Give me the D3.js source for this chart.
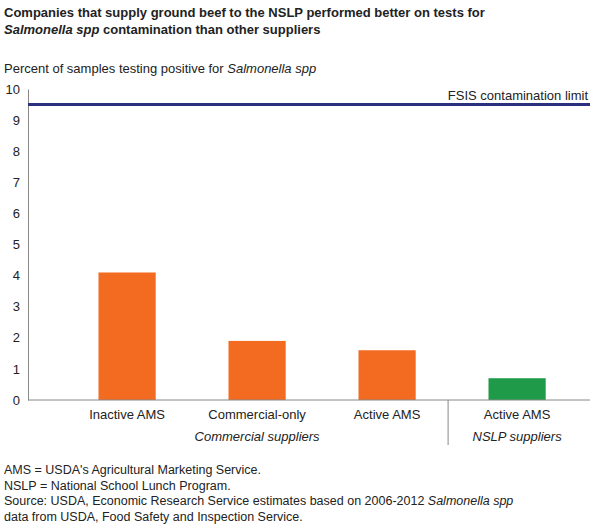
<!DOCTYPE html>
<html><head><meta charset="utf-8">
<script src="https://cdn.jsdelivr.net/npm/d3@7"></script>
<style>body{margin:0;background:#fff;font-family:Arial,"Liberation Sans",sans-serif}</style>
</head><body><svg id="c" width="590" height="531"></svg>
<script>
const categories = ["Inactive AMS","Commercial-only","Active AMS","Active AMS NSLP"];
const labels = ["Inactive AMS","Commercial-only","Active AMS","Active AMS"];
const values = [4.1, 1.9, 1.6, 0.7];
const colors = ["#f26b21","#f26b21","#f26b21","#1f9a48"];
const yTicks = [0,1,2,3,4,5,6,7,8,9,10];
const limit = 9.5;

const svg = d3.select("#c");
const x0 = 28, x1 = 590, yb = 400, yt = 89;
const y = d3.scaleLinear().domain([0,10]).range([yb,yt]);
const x = d3.scaleBand().domain(categories).range([33.5,610.7]).paddingInner(0.56).paddingOuter(0.5);

svg.append("text").attr("x",4).attr("y",17).attr("font-size",13).attr("font-weight","bold").attr("fill","#222")
  .text("Companies that supply ground beef to the NSLP performed better on tests for");
const t2 = svg.append("text").attr("x",4).attr("y",34).attr("font-size",13).attr("font-weight","bold").attr("fill","#222");
t2.append("tspan").attr("font-style","italic").text("Salmonella spp");
t2.append("tspan").text(" contamination than other suppliers");

const yl = svg.append("text").attr("x",4).attr("y",73).attr("font-size",13).attr("fill","#222");
yl.append("tspan").text("Percent of samples testing positive for ");
yl.append("tspan").attr("font-style","italic").text("Salmonella spp");

const ya = svg.append("g").attr("transform",`translate(${x0},0)`)
  .call(d3.axisLeft(y).tickValues(yTicks).tickSize(0).tickPadding(8));
ya.select(".domain").attr("stroke","#888");
ya.selectAll("text").attr("font-size",13).attr("fill","#222").attr("font-family","Arial,'Liberation Sans',sans-serif");

svg.selectAll("rect.bar").data(values).enter().append("rect")
  .attr("x",(d,i)=>x(categories[i])).attr("width",x.bandwidth())
  .attr("y",d=>y(d)).attr("height",d=>yb-y(d)).attr("fill",(d,i)=>colors[i]);

svg.append("line").attr("x1",x0).attr("x2",x1).attr("y1",yb).attr("y2",yb).attr("stroke","#888");
svg.append("line").attr("x1",x0).attr("x2",x1).attr("y1",y(limit)).attr("y2",y(limit)).attr("stroke","#2a2f7e").attr("stroke-width",3);
svg.append("text").attr("x",588).attr("y",y(limit)-5).attr("text-anchor","end").attr("font-size",13).attr("fill","#222").text("FSIS contamination limit");

svg.selectAll("text.cat").data(labels).enter().append("text")
  .attr("x",(d,i)=>x(categories[i])+x.bandwidth()/2).attr("y",419).attr("text-anchor","middle")
  .attr("font-size",13).attr("fill","#222").text(d=>d);
svg.append("text").attr("x",x(categories[1])+x.bandwidth()/2).attr("y",441).attr("text-anchor","middle")
  .attr("font-size",13).attr("font-style","italic").attr("fill","#222").text("Commercial suppliers");
svg.append("text").attr("x",x(categories[3])+x.bandwidth()/2).attr("y",441).attr("text-anchor","middle")
  .attr("font-size",13).attr("font-style","italic").attr("fill","#222").text("NSLP suppliers");
const sep = (x(categories[2])+x.bandwidth()+x(categories[3]))/2 - 4;
svg.append("line").attr("x1",sep).attr("x2",sep).attr("y1",yb).attr("y2",445).attr("stroke","#888");

const notes = [["AMS = USDA's Agricultural Marketing Service."],["NSLP = National School Lunch Program."],
 ["Source: USDA, Economic Research Service estimates based on 2006-2012 ",["Salmonella spp"]],
 ["data from USDA, Food Safety and Inspection Service."]];
notes.forEach((n,i)=>{
  const t = svg.append("text").attr("x",4).attr("y",474+i*15.5).attr("font-size",12.5).attr("fill","#222");
  n.forEach(p=>{ if(Array.isArray(p)) t.append("tspan").attr("font-style","italic").text(p[0]); else t.append("tspan").text(p); });
});
</script></body></html>
